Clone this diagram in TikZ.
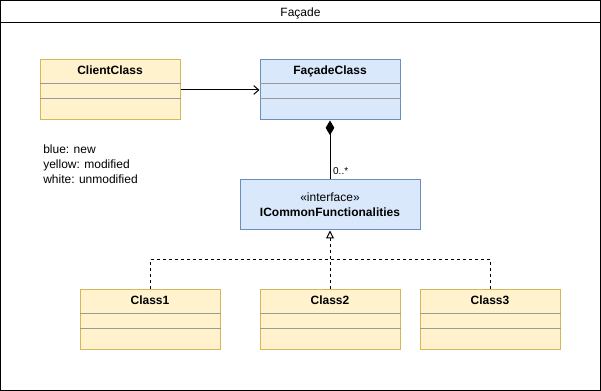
\documentclass[tikz,border=0pt]{standalone}
\usepackage{fontspec}
\setmainfont{Liberation Sans}
\usetikzlibrary{arrows.meta,calc}

\definecolor{newfill}{HTML}{DAE8FC}
\definecolor{newline}{HTML}{6C8EBF}
\definecolor{modfill}{HTML}{FFF2CC}
\definecolor{modline}{HTML}{D6B656}
\definecolor{sepline}{HTML}{9A9A9A}

\tikzset{
  classbox/.style={draw, line width=0.75pt, minimum width=105pt, minimum height=45pt, inner sep=0pt},
  modified/.style={classbox, fill=modfill, draw=modline},
  added/.style={classbox, fill=newfill, draw=newline},
  classname/.style={anchor=base, inner sep=0pt, font=\bfseries\fontsize{9}{11}\selectfont},
  sepline/.style={draw=sepline, line width=0.75pt},
  realize/.style={line width=0.75pt, dash pattern=on 2.25pt off 2.25pt},
}

\begin{document}
\begin{tikzpicture}[x=0.75pt,y=0.75pt,yscale=-1,xscale=1]
\useasboundingbox (0,0) rectangle (601,391);
% frame with title bar
\draw [line width=0.75pt] (0.5,0.5) rectangle (600.5,390.5);
\draw [line width=0.75pt] (0.5,23) -- (600.5,23);
\node [anchor=base, inner sep=0pt, font=\fontsize{9}{11}\selectfont] (title) at (300.5,17) {Façade};

% classes
\node [modified] (client) at (110,90) {};
\node [classname] (clientname) at ($(client.north)+(0,15)$) {ClientClass};
\draw [sepline] ($(client.north west)+(0,24)$) -- ($(client.north east)+(0,24)$);
\draw [sepline] ($(client.north west)+(0,39)$) -- ($(client.north east)+(0,39)$);

\node [added] (facade) at (330,90) {};
\node [classname] (facadename) at ($(facade.north)+(0,15)$) {FaçadeClass};
\draw [sepline] ($(facade.north west)+(0,24)$) -- ($(facade.north east)+(0,24)$);
\draw [sepline] ($(facade.north west)+(0,39)$) -- ($(facade.north east)+(0,39)$);

\node [added, minimum width=135pt, minimum height=37.5pt, align=center, font=\fontsize{9}{11}\selectfont] (iface) at (330,205) {«interface»\\\textbf{ICommonFunctionalities}};

\node [modified] (class1) at (150,320) {};
\node [classname] (class1name) at ($(class1.north)+(0,15)$) {Class1};
\draw [sepline] ($(class1.north west)+(0,24)$) -- ($(class1.north east)+(0,24)$);
\draw [sepline] ($(class1.north west)+(0,39)$) -- ($(class1.north east)+(0,39)$);

\node [modified] (class2) at (330,320) {};
\node [classname] (class2name) at ($(class2.north)+(0,15)$) {Class2};
\draw [sepline] ($(class2.north west)+(0,24)$) -- ($(class2.north east)+(0,24)$);
\draw [sepline] ($(class2.north west)+(0,39)$) -- ($(class2.north east)+(0,39)$);

\node [modified] (class3) at (490,320) {};
\node [classname] (class3name) at ($(class3.north)+(0,15)$) {Class3};
\draw [sepline] ($(class3.north west)+(0,24)$) -- ($(class3.north east)+(0,24)$);
\draw [sepline] ($(class3.north west)+(0,39)$) -- ($(class3.north east)+(0,39)$);

% legend
\node [anchor=north west, align=left, inner sep=0pt, font=\fontsize{9}{11}\selectfont] (legend) at (43,145) {blue: new\\yellow: modified\\white: unmodified};

% relations
\draw [line width=0.75pt, -{Straight Barb[length=3.75pt,width=6.5pt]}] (client.east) -- (facade.west);
\draw [line width=0.75pt, {Diamond[length=11pt,width=6.5pt]}-] (facade.south) -- node [pos=0.85, anchor=west, inner sep=2pt, font=\fontsize{7.5}{9}\selectfont] (mult) {0..*} (iface.north);
\coordinate (join) at (330,260);
\draw [realize] (class1.north) |- (join);
\draw [realize] (class3.north) |- (join);
\draw [realize, -{Triangle[open,length=6pt,width=6pt,line width=0.75pt]}] (class2.north) -- (iface.south);
\end{tikzpicture}
\end{document}
